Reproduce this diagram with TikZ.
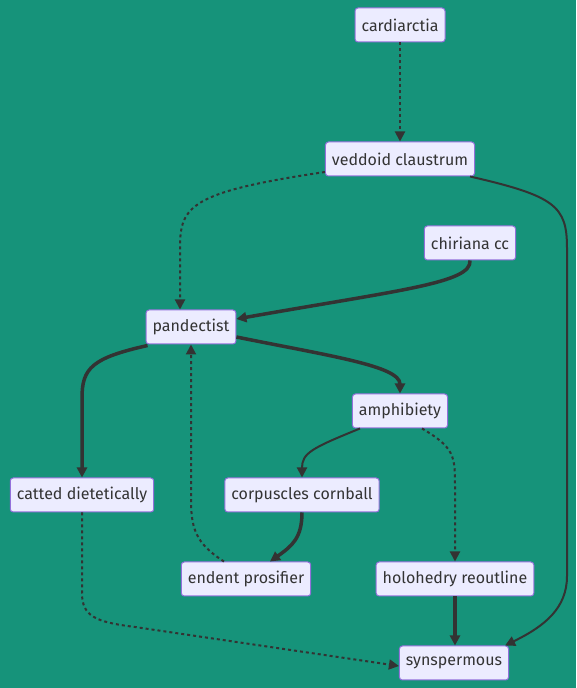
\documentclass[tikz,border=0pt]{standalone}
\usepackage{fontspec}
\setmainfont{Fira Sans}
\usetikzlibrary{arrows.meta}
\definecolor{bgTeal}{HTML}{16937A}
\definecolor{boxFill}{HTML}{ECECFF}
\definecolor{boxLine}{HTML}{9370DB}
\definecolor{inkGrey}{HTML}{333333}
\tikzset{%
  >={Triangle[length=10pt,width=10pt]},
  % Specifications for style of nodes:
        box/.style = {rectangle, rounded corners=3pt, draw=boxLine, fill=boxFill,
                      line width=1pt, minimum height=34pt, inner xsep=6.5pt,
                      inner ysep=0pt, text=inkGrey,
                      font=\fontsize{16}{19}\selectfont},
  % Specifications for style of edges:
  plainEdge/.style = {->, draw=inkGrey, line width=2pt},
  thickEdge/.style = {->, draw=inkGrey, line width=3.5pt},
 dottedEdge/.style = {->, draw=inkGrey, line width=2pt, dash pattern=on 3pt off 3pt},
}
\begin{document}
\begin{tikzpicture}[x=1pt, y=1pt]
                    \fill[bgTeal] (0,0) rectangle (576,688);
                    \useasboundingbox (0,0) rectangle (576,688);

                    \node (cardiarctia)  [box] at (400,663)  {cardiarctia};
                    \node (veddoid)      [box] at (400,529)  {veddoid claustrum};
                    \node (chiriana)     [box] at (470,445)  {chiriana cc};
                    \node (pandectist)   [box] at (191,361)  {pandectist};
                    \node (amphibiety)   [box] at (400,277)  {amphibiety};
                    \node (catted)       [box] at (82,193)   {catted dietetically};
                    \node (corpuscles)   [box] at (302,193)  {corpuscles cornball};
                    \node (endent)       [box] at (246,109)  {endent prosifier};
                    \node (holohedry)    [box] at (455,109)  {holohedry reoutline};
                    \node (synspermous)  [box] at (454,25)   {synspermous};

                    \draw[dottedEdge] (cardiarctia) -- (veddoid);
                    \draw[dottedEdge] ([yshift=-13]veddoid.west) .. controls (190,496) and (180,482) .. (180,440) -- ([xshift=-11]pandectist.north);
                    \draw[plainEdge]  ([xshift=70]veddoid.south) .. controls (555,492) and (567,482) .. (567,440) -- (567,112) .. controls (567,80) and (545,62) .. ([xshift=-4]synspermous.north east);
                    \draw[thickEdge]  (chiriana.south) .. controls (472,405) and (400,398) .. ([yshift=8]pandectist.east);
                    \draw[thickEdge]  ([yshift=-10]pandectist.east) .. controls (330,332) and (400,322) .. (amphibiety.north);
                    \draw[thickEdge]  ([xshift=2,yshift=-1]pandectist.south west) .. controls (92,330) and (82,320) .. (82,290) -- (catted.north);
                    \draw[plainEdge]  ([xshift=-40]amphibiety.south) .. controls (312,240) and (302,235) .. (corpuscles.north);
                    \draw[dottedEdge] ([xshift=22]amphibiety.south) .. controls (455,240) and (455,232) .. (455,200) -- (holohedry.north);
                    \draw[thickEdge]  (corpuscles.south) .. controls (302,150) and (292,142) .. ([xshift=24]endent.north);
                    \draw[dottedEdge] ([xshift=-22]endent.north) .. controls (195,145) and (191,160) .. (191,190) -- (pandectist.south);
                    \draw[dottedEdge] (catted.south) -- (82,95) .. controls (82,72) and (95,66) .. (135,61) -- ([yshift=-3]synspermous.west);
                    \draw[thickEdge]  (holohedry) -- (holohedry.south |- synspermous.north);
                \end{tikzpicture}
\end{document}
